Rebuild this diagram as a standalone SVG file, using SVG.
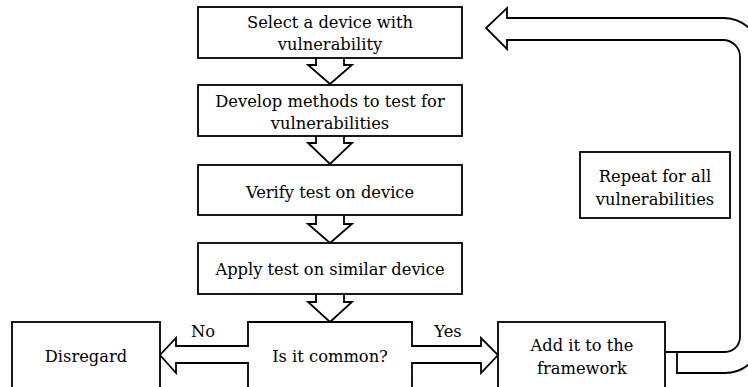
<svg xmlns="http://www.w3.org/2000/svg" width="748" height="387" viewBox="0 0 748 387">
<style>
.b{fill:#fff;stroke:#000;stroke-width:1.8}
.a{fill:#fff;stroke:#000;stroke-width:1.8;stroke-linejoin:miter}
text{font-family:"DejaVu Serif","Liberation Serif",serif;font-size:16.3px;fill:#000;text-anchor:middle}
</style>
<rect width="748" height="387" fill="#fff"/>
<g id="connectors">
<path class="a" d="M316 57 V65 H308 L330 84 L352 65 H344 V57"/>
<path class="a" d="M316 136 V143 H308 L330 164 L352 143 H344 V136"/>
<path class="a" d="M316 215 V224 H308 L330 243 L352 224 H344 V215"/>
<path class="a" d="M316 294 V302 H308 L330 322 L352 302 H344 V294"/>
<path class="a" d="M666 352 H677 V373 H725 A37 37 0 0 0 762 336 V57 A39 39 0 0 0 723 18 H507 V8 L486 28 L507 49 V40 H723 A17 17 0 0 1 740 57 V337 A15 15 0 0 1 725 352 H666"/>
</g>
<g id="n1"><rect class="b" x="198" y="7" width="264" height="51"/><text x="330" y="28">Select a device with</text><text x="330" y="50">vulnerability</text></g>
<g id="n2"><rect class="b" x="198" y="85" width="264" height="51"/><text x="330" y="107">Develop methods to test for</text><text x="330" y="129">vulnerabilities</text></g>
<g id="n3"><rect class="b" x="198" y="165" width="264" height="50"/><text x="330" y="198">Verify test on device</text></g>
<g id="n4"><rect class="b" x="198" y="243" width="264" height="51"/><text x="330" y="275">Apply test on similar device</text></g>
<g id="n5"><path class="a" d="M248 392 V363 H176 V373 L160 355 L176 338 V346 H248 V322 H412 V346 H481 V338 L498 355 L481 373 V363 H412 V392"/><text x="330" y="362">Is it common?</text><text x="203" y="337">No</text><text x="448" y="337">Yes</text></g>
<g id="n6"><rect class="b" x="12" y="322" width="148" height="70"/><text x="86" y="362">Disregard</text></g>
<g id="n7"><rect class="b" x="498" y="322" width="167" height="70"/><text x="582" y="351">Add it to the</text><text x="582" y="374">framework</text></g>
<g id="n8"><rect class="b" x="580" y="152" width="150" height="66"/><text x="655" y="182">Repeat for all</text><text x="655" y="205">vulnerabilities</text></g>
</svg>
